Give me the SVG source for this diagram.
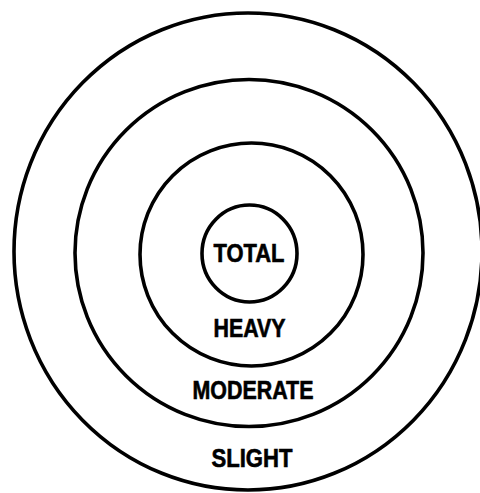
<svg xmlns="http://www.w3.org/2000/svg" width="480" height="493" viewBox="0 0 480 493">
<style>
.ring{fill:none;stroke:#000;stroke-width:3.6}
.lbl{font-family:"Liberation Sans",Arial,sans-serif;font-weight:bold;font-size:25px;fill:#000;stroke:#000;stroke-width:0.6;text-anchor:middle}
</style>
<rect width="480" height="493" fill="#fff"/>
<g id="slight">
<ellipse class="ring" cx="248" cy="251.5" rx="234" ry="238.5"/>
<text class="lbl" x="252" y="467" textLength="81" lengthAdjust="spacingAndGlyphs">SLIGHT</text>
</g>
<g id="moderate">
<ellipse class="ring" cx="249" cy="253" rx="174" ry="173.5"/>
<text class="lbl" x="253" y="399" textLength="121" lengthAdjust="spacingAndGlyphs">MODERATE</text>
</g>
<g id="heavy">
<ellipse class="ring" cx="251.5" cy="254.5" rx="111.5" ry="111.5"/>
<text class="lbl" x="249.5" y="337" textLength="72" lengthAdjust="spacingAndGlyphs">HEAVY</text>
</g>
<g id="total">
<ellipse class="ring" cx="249.5" cy="253.5" rx="47.5" ry="48.5"/>
<text class="lbl" x="249" y="262" textLength="71" lengthAdjust="spacingAndGlyphs">TOTAL</text>
</g>
<g id="connectors"/>
</svg>
